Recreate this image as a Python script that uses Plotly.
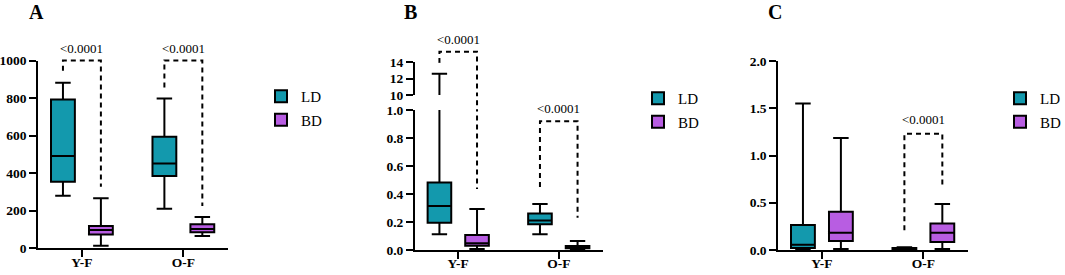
import plotly.graph_objects as go

# ---------------- data ----------------
groups = ["Y-F", "O-F"]
series = ["LD", "BD"]
p_label = "<0.0001"

# Panel A (box stats per group: Y-F, O-F)
A_LD_min = [280, 211]
A_LD_q1 = [354, 385]
A_LD_med = [492, 452]
A_LD_q3 = [792, 594]
A_LD_max = [881, 798]
A_BD_min = [14, 65]
A_BD_q1 = [74, 85]
A_BD_med = [97, 103]
A_BD_q3 = [119, 128]
A_BD_max = [266, 167]

# Panel B
B_LD_min = [0.112, 0.112]
B_LD_q1 = [0.195, 0.184]
B_LD_med = [0.314, 0.21]
B_LD_q3 = [0.483, 0.26]
B_LD_max = [12.6, 0.329]
B_BD_min = [0.007, 0.003]
B_BD_q1 = [0.031, 0.012]
B_BD_med = [0.048, 0.02]
B_BD_q3 = [0.107, 0.029]
B_BD_max = [0.293, 0.064]

# Panel C
C_LD_min = [0.0, 0.0]
C_LD_q1 = [0.02, 0.005]
C_LD_med = [0.055, 0.01]
C_LD_q3 = [0.264, 0.02]
C_LD_max = [1.55, 0.03]
C_BD_min = [0.01, 0.01]
C_BD_q1 = [0.095, 0.085]
C_BD_med = [0.183, 0.183]
C_BD_q3 = [0.405, 0.28]
C_BD_max = [1.186, 0.486]

# significance brackets: [left end, top, right end, label height]
A_sig_YF = [946, 1000, 328, 1064]
A_sig_OF = [856, 1000, 225, 1064]
B_sig_YF = [13.9, 15.3, 0.435, 16.85]
B_sig_OF = [0.45, 0.92, 0.23, 1.014]
C_sig_OF = [0.21, 1.23, 0.65, 1.376]

A_ticks = [0, 200, 400, 600, 800, 1000]
B_ticks_low = [0.0, 0.2, 0.4, 0.6, 0.8, 1.0]
B_ticks_up = [10, 12, 14]
C_ticks = [0.0, 0.5, 1.0, 1.5, 2.0]

# ---------------- style / layout ----------------
W, H = 1065, 275
TEAL = "#1399ad"
PURPLE = "#b85de2"
SERIF = "Liberation Serif, Times New Roman, serif"
OFF = 0.187
BOXW = 0.235
XR = [-0.43, 1.44]
gidx = list(range(len(groups)))


def px(x):
    return x / W


def py(y):
    return 1 - y / H


fig = go.Figure()


def add_box(name, color, xa, ya, lo, q1, med, q3, hi, off, legend, show):
    fig.add_trace(go.Box(
        x=[g + off for g in gidx], q1=q1, median=med, q3=q3,
        lowerfence=lo, upperfence=hi, name=name, width=BOXW,
        fillcolor=color, line=dict(color="black", width=2),
        whiskerwidth=0.65, boxpoints=False, xaxis=xa, yaxis=ya,
        legend=legend, showlegend=show, legendgroup=name, hoverinfo="skip"))


def add_bracket(g, sig, xa, ya):
    xs = [g - OFF, g - OFF, g + OFF, g + OFF]
    ys = [sig[0], sig[1], sig[1], sig[2]]
    fig.add_trace(go.Scatter(x=xs, y=ys, mode="lines", xaxis=xa, yaxis=ya,
                             line=dict(color="black", width=2, dash="5px,4px"),
                             showlegend=False, hoverinfo="skip"))


def add_label(g, sig, xa, ya):
    fig.add_annotation(x=g, y=sig[3], xref=xa, yref=ya, text=p_label,
                       showarrow=False, yanchor="middle",
                       font=dict(family=SERIF, size=13, color="black"))


tickfont = dict(family=SERIF, size=13.5, color="black", weight="bold")
xax_common = dict(range=XR, tickvals=gidx, ticktext=groups, showline=True,
                  linecolor="black", linewidth=2, ticks="outside", ticklen=7,
                  tickwidth=2, tickcolor="black", tickfont=tickfont,
                  showgrid=False, zeroline=False, fixedrange=True,
                  automargin=False, ticklabelstandoff=-7)
yax_common = dict(showline=True, linecolor="black", linewidth=2,
                  ticks="outside", ticklen=7, tickwidth=2, tickcolor="black",
                  tickfont=tickfont, showgrid=False, zeroline=False,
                  ticklabelstandoff=0, automargin=False, fixedrange=True)
hidden = dict(visible=False, showgrid=False, zeroline=False, automargin=False,
              fixedrange=True)
inner_tick = dict(ticks="inside", ticklen=7, tickwidth=2, tickcolor="black",
                  showticklabels=False, showline=False, showgrid=False,
                  zeroline=False, automargin=False, fixedrange=True)

layout_axes = {}
# ---- Panel A ----
layout_axes["xaxis"] = dict(xax_common, domain=[px(38.3), px(228)], anchor="y")
layout_axes["yaxis"] = dict(yax_common, domain=[py(248.3), py(60.5)], range=[0, 1000],
                            tickvals=A_ticks, anchor="x")
extA = 1000 * 248.3 / (248.3 - 60.5)
layout_axes["yaxis2"] = dict(hidden, domain=[py(248.3), 1], range=[0, extA], anchor="x")

add_box("LD", TEAL, "x", "y", A_LD_min, A_LD_q1, A_LD_med, A_LD_q3, A_LD_max, -OFF, "legend", True)
add_box("BD", PURPLE, "x", "y", A_BD_min, A_BD_q1, A_BD_med, A_BD_q3, A_BD_max, OFF, "legend", True)
for g, sig in zip(gidx, [A_sig_YF, A_sig_OF]):
    add_bracket(g, sig, "x", "y2")
    add_label(g, sig, "x", "y2")

# ---- Panel B (broken axis) ----
b_low = [250, 110]   # pixel of 0 and 1.0
b_up = [95, 62.3]    # pixel of 10 and 14
layout_axes["xaxis2"] = dict(xax_common, domain=[px(415), px(603)], anchor="y3")
layout_axes["yaxis3"] = dict(yax_common, domain=[py(b_low[0]), py(b_low[1])], range=[0, 1],
                             tickvals=B_ticks_low, tickformat=".1f", anchor="x2")
layout_axes["yaxis4"] = dict(yax_common, domain=[py(b_up[0]), py(b_up[1])], range=[10, 14],
                             tickvals=B_ticks_up, anchor="x2")
layout_axes["yaxis5"] = dict(hidden, domain=[py(b_low[1]), py(b_up[0])], range=[1, 10], anchor="x2")
top_ext = 14 + 4 * b_up[1] / (b_up[0] - b_up[1])
layout_axes["yaxis6"] = dict(hidden, domain=[py(b_up[1]), 1], range=[14, top_ext], anchor="x2")
low_ext = b_low[0] / (b_low[0] - b_low[1])
layout_axes["yaxis7"] = dict(hidden, domain=[py(b_low[0]), 1], range=[0, low_ext], anchor="x2")
# inner half of the break ticks
layout_axes["yaxis8"] = dict(inner_tick, overlaying="y3", anchor="x2", range=[0, 1], tickvals=[1.0])
layout_axes["yaxis9"] = dict(inner_tick, overlaying="y4", anchor="x2", range=[10, 14], tickvals=[10])

for ya, show in [("y3", True), ("y4", False)]:
    add_box("LD", TEAL, "x2", ya, B_LD_min, B_LD_q1, B_LD_med, B_LD_q3, B_LD_max, -OFF, "legend2", show)
    add_box("BD", PURPLE, "x2", ya, B_BD_min, B_BD_q1, B_BD_med, B_BD_q3, B_BD_max, OFF, "legend2", show)
for ya in ["y3", "y5", "y4", "y6"]:
    add_bracket(0, B_sig_YF, "x2", ya)
add_label(0, B_sig_YF, "x2", "y6")
add_bracket(1, B_sig_OF, "x2", "y7")
add_label(1, B_sig_OF, "x2", "y7")
for ya in ["y8", "y9"]:
    fig.add_trace(go.Scatter(x=[None], y=[None], xaxis="x2", yaxis=ya,
                             showlegend=False, hoverinfo="skip"))

# ---- Panel C ----
layout_axes["xaxis3"] = dict(xax_common, domain=[px(778.3), px(968)], anchor="y10")
layout_axes["yaxis10"] = dict(yax_common, domain=[py(250), py(61)], range=[0, 2],
                              tickvals=C_ticks, tickformat=".1f", anchor="x3")
add_box("LD", TEAL, "x3", "y10", C_LD_min, C_LD_q1, C_LD_med, C_LD_q3, C_LD_max, -OFF, "legend3", True)
add_box("BD", PURPLE, "x3", "y10", C_BD_min, C_BD_q1, C_BD_med, C_BD_q3, C_BD_max, OFF, "legend3", True)
add_bracket(1, C_sig_OF, "x3", "y10")
add_label(1, C_sig_OF, "x3", "y10")

# panel letters
for letter, xpix in [("A", 36.7), ("B", 410), ("C", 775)]:
    fig.add_annotation(x=px(xpix), y=py(12), xref="paper", yref="paper", text=letter,
                       showarrow=False, xanchor="center", yanchor="middle",
                       font=dict(family=SERIF, size=20, color="black", weight="bold"))

legend_common = dict(xanchor="left", yanchor="top", bgcolor="rgba(0,0,0,0)",
                     font=dict(family=SERIF, size=15, color="black"),
                     tracegroupgap=1, itemclick=False, itemdoubleclick=False)
fig.update_layout(
    template="none",
    width=W, height=H, margin=dict(l=0, r=0, t=0, b=0, autoexpand=False),
    paper_bgcolor="white", plot_bgcolor="rgba(0,0,0,0)",
    hovermode=False, dragmode=False,
    legend=dict(legend_common, x=px(261), y=py(80)),
    legend2=dict(legend_common, x=px(638), y=py(82)),
    legend3=dict(legend_common, x=px(1000), y=py(82)),
    **layout_axes,
)

fig.write_html("out.html", config={"displayModeBar": False, "staticPlot": False},
               post_script="document.body.style.margin='0px';")
